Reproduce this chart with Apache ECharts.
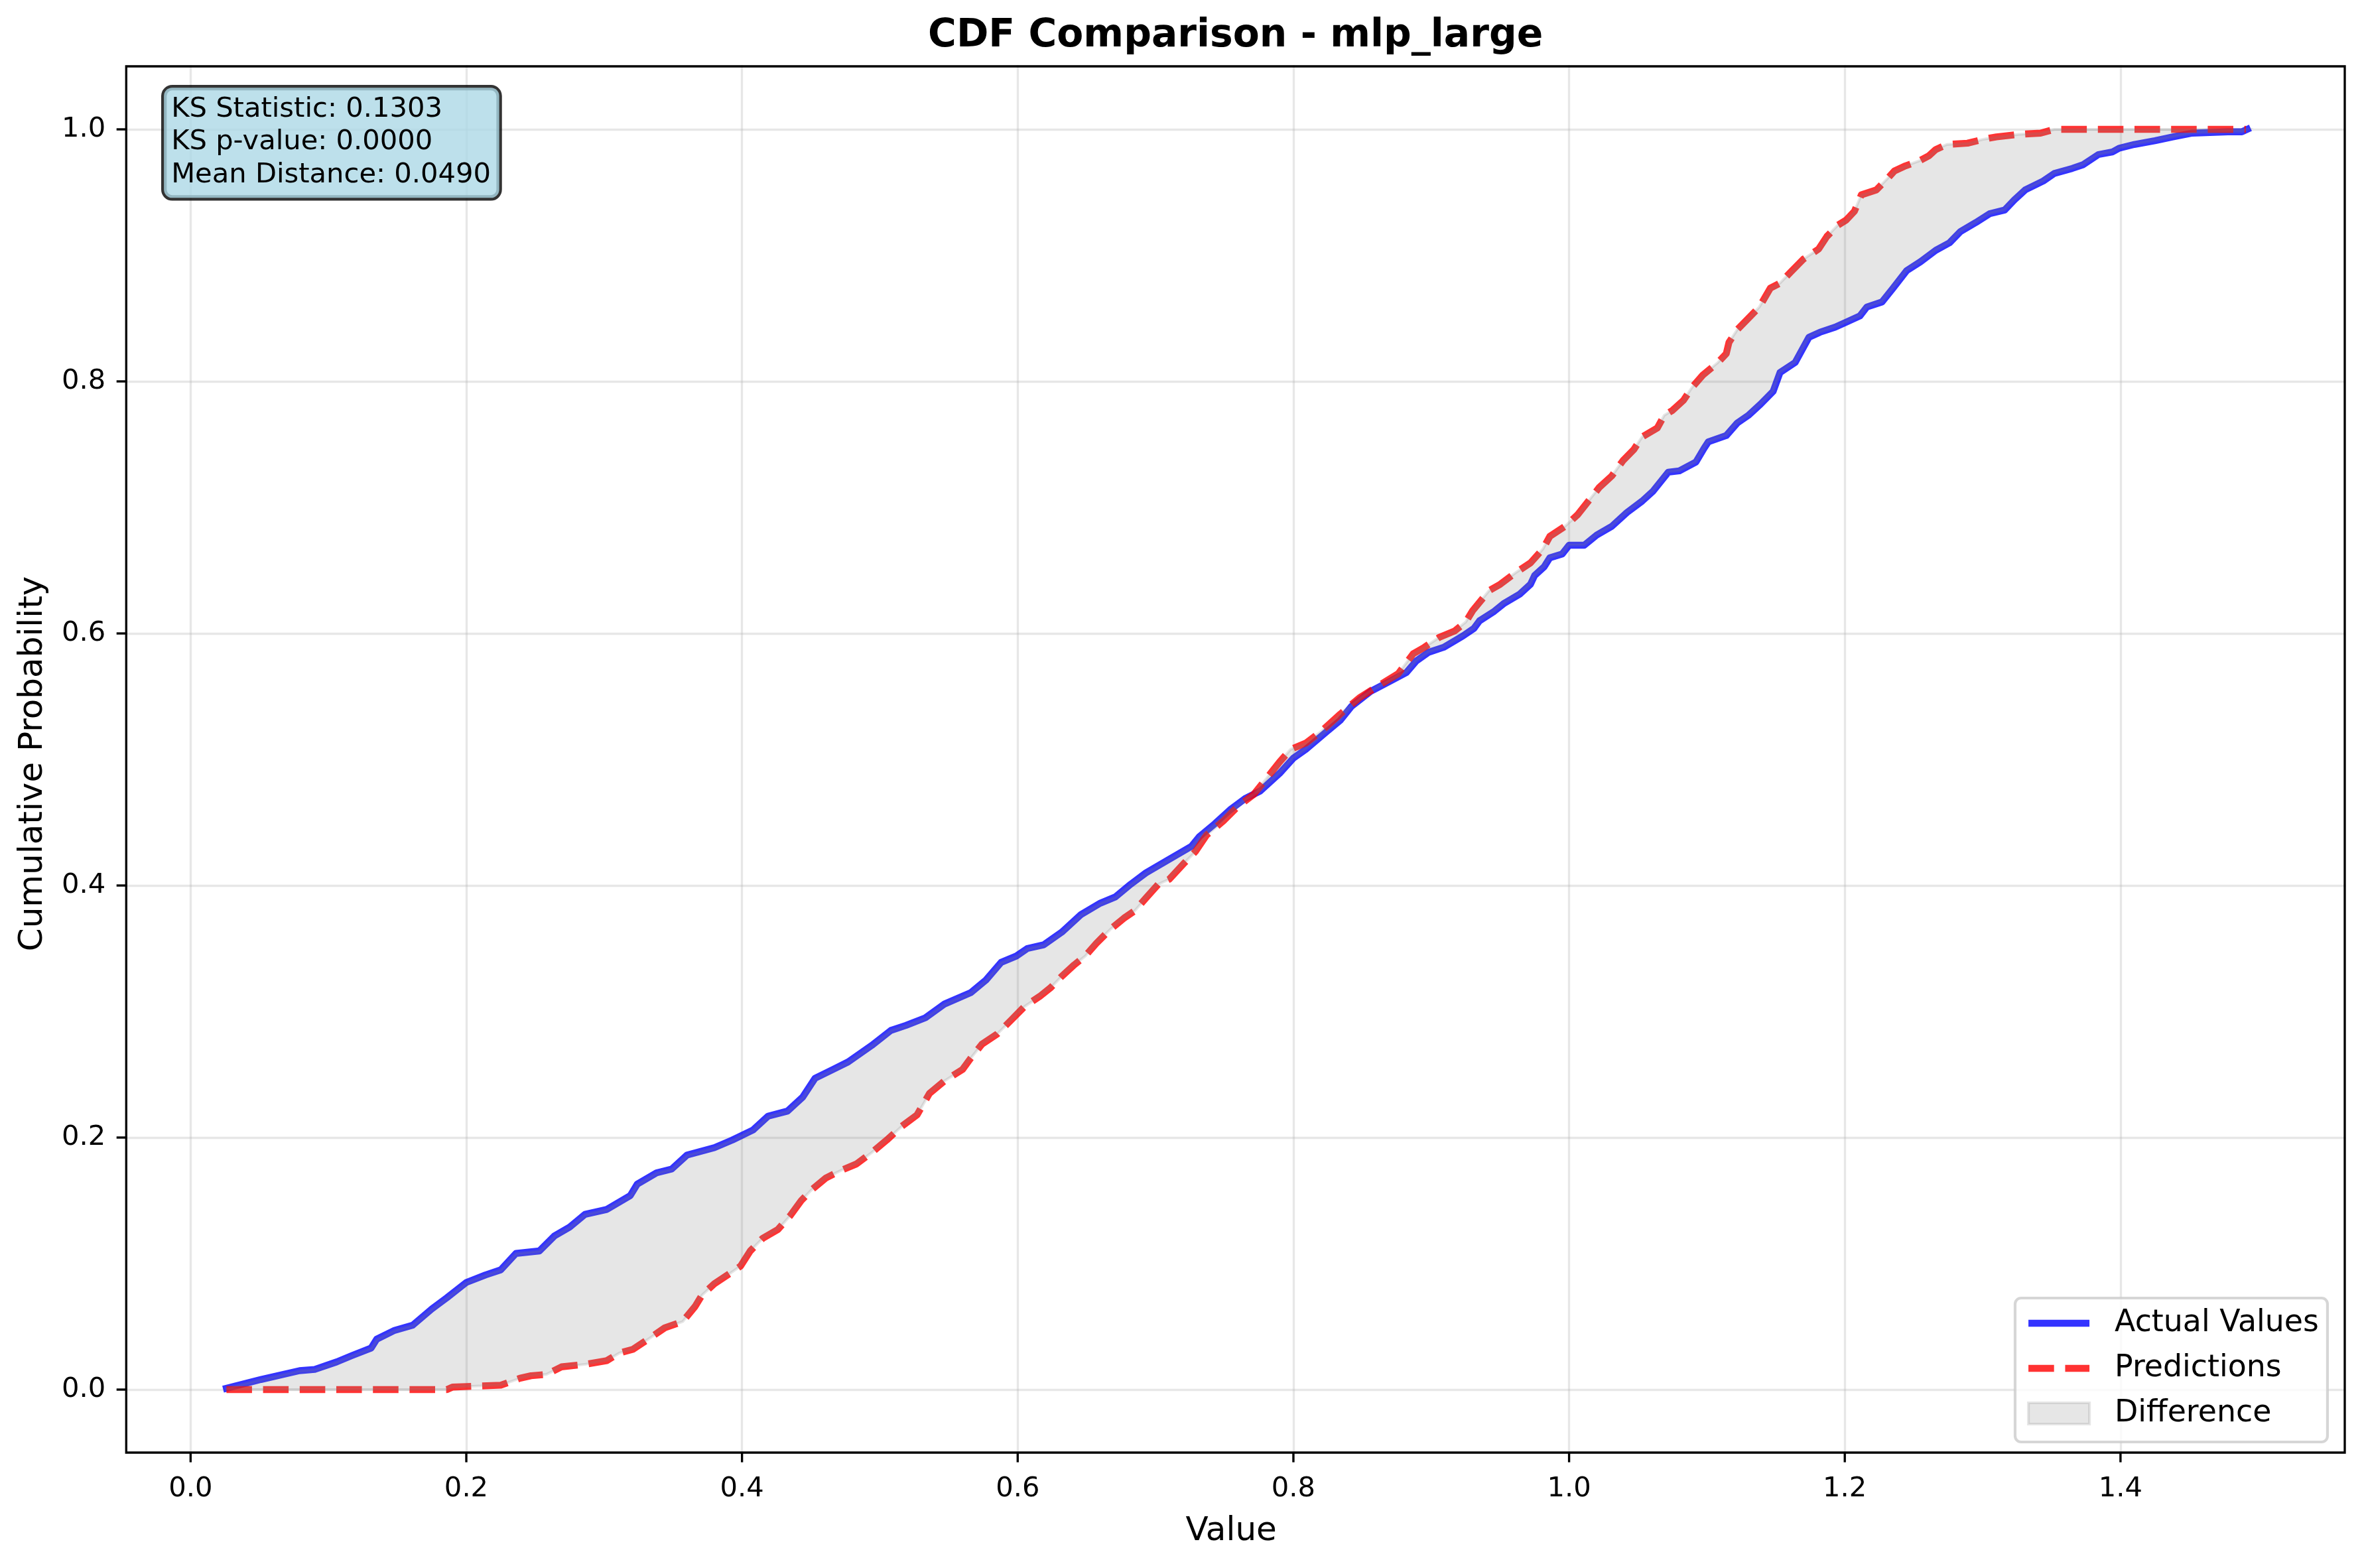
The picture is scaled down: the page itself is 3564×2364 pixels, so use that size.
<!DOCTYPE html>
<html><head><meta charset="utf-8">
<script src="https://cdn.jsdelivr.net/npm/echarts@6/dist/echarts.min.js"></script>
<style>html,body{margin:0;padding:0;background:#fff}#c{width:3564px;height:2364px}</style>
</head><body><div id="c"></div>
<script>
const titleText = 'CDF Comparison - mlp_large';
const xName = 'Value';
const yName = 'Cumulative Probability';
const statsLines = ['KS Statistic: 0.1303', 'KS p-value: 0.0000', 'Mean Distance: 0.0490'];
const seriesNames = ['Actual Values', 'Predictions', 'Difference'];
const xTicks = [0, 0.2, 0.4, 0.6, 0.8, 1.0, 1.2, 1.4];
const yTicks = [0, 0.2, 0.4, 0.6, 0.8, 1.0];
// plotted data limits (the spine box)
const xRange = [-0.0467, 1.5627];
const yRange = [-0.05, 1.05];
// axis extents, slightly wider so the outward tick marks fall inside the drawing area
const xAxisRange = [-0.053725, 1.563518];
const yAxisRange = [-0.057684, 1.050895];

const actualX = [0.026,0.051,0.079,0.090,0.106,0.117,0.131,0.135,0.148,0.161,0.175,0.186,0.200,0.214,0.225,0.236,0.253,0.264,0.275,0.286,0.302,0.319,0.324,0.338,0.349,0.360,0.380,0.393,0.408,0.419,0.433,0.444,0.453,0.466,0.477,0.494,0.508,0.519,0.533,0.547,0.566,0.577,0.588,0.599,0.607,0.619,0.632,0.646,0.660,0.671,0.682,0.693,0.707,0.726,0.732,0.743,0.754,0.765,0.776,0.790,0.800,0.809,0.824,0.834,0.842,0.856,0.870,0.882,0.889,0.898,0.909,0.923,0.931,0.935,0.945,0.953,0.964,0.972,0.975,0.982,0.986,0.995,1.000,1.011,1.020,1.031,1.042,1.053,1.061,1.072,1.080,1.092,1.098,1.101,1.114,1.122,1.130,1.139,1.148,1.153,1.164,1.174,1.182,1.193,1.201,1.211,1.216,1.227,1.235,1.245,1.255,1.266,1.276,1.284,1.295,1.305,1.316,1.323,1.331,1.344,1.352,1.365,1.373,1.384,1.394,1.399,1.410,1.425,1.438,1.452,1.478,1.488,1.492];
const actualY = [0.001,0.008,0.015,0.016,0.022,0.027,0.033,0.040,0.047,0.051,0.064,0.073,0.085,0.091,0.095,0.108,0.110,0.122,0.129,0.139,0.143,0.154,0.163,0.172,0.175,0.186,0.192,0.198,0.206,0.217,0.221,0.232,0.247,0.254,0.260,0.273,0.285,0.289,0.295,0.306,0.315,0.325,0.339,0.344,0.350,0.353,0.363,0.377,0.386,0.391,0.401,0.410,0.419,0.431,0.439,0.449,0.460,0.469,0.475,0.489,0.501,0.508,0.522,0.531,0.542,0.554,0.562,0.569,0.578,0.585,0.589,0.598,0.604,0.610,0.617,0.624,0.631,0.639,0.646,0.653,0.660,0.663,0.670,0.670,0.678,0.685,0.696,0.705,0.713,0.728,0.729,0.736,0.747,0.752,0.757,0.767,0.773,0.782,0.792,0.807,0.815,0.835,0.839,0.843,0.847,0.852,0.859,0.863,0.874,0.888,0.895,0.904,0.910,0.919,0.926,0.933,0.936,0.944,0.952,0.959,0.965,0.969,0.972,0.980,0.982,0.985,0.988,0.991,0.994,0.997,0.998,0.998,1.000];

const predX = [0.026,0.186,0.190,0.225,0.239,0.247,0.258,0.269,0.286,0.302,0.311,0.321,0.332,0.344,0.357,0.366,0.371,0.380,0.391,0.399,0.406,0.415,0.426,0.435,0.443,0.450,0.461,0.472,0.483,0.494,0.505,0.516,0.527,0.536,0.547,0.560,0.566,0.574,0.585,0.596,0.605,0.616,0.624,0.632,0.641,0.649,0.657,0.667,0.677,0.685,0.693,0.702,0.710,0.721,0.729,0.737,0.749,0.760,0.771,0.782,0.790,0.798,0.809,0.820,0.834,0.848,0.867,0.876,0.887,0.895,0.906,0.917,0.925,0.930,0.942,0.950,0.961,0.972,0.981,0.986,0.997,1.006,1.014,1.022,1.031,1.039,1.047,1.053,1.064,1.069,1.075,1.083,1.089,1.097,1.108,1.114,1.116,1.122,1.138,1.146,1.153,1.161,1.170,1.181,1.187,1.195,1.201,1.207,1.212,1.223,1.231,1.236,1.244,1.254,1.261,1.266,1.274,1.289,1.300,1.310,1.326,1.342,1.352,1.491];
const predY = [0.000,0.000,0.002,0.0035,0.009,0.011,0.012,0.018,0.020,0.023,0.029,0.032,0.040,0.049,0.054,0.066,0.075,0.084,0.092,0.098,0.110,0.120,0.127,0.138,0.150,0.158,0.168,0.174,0.179,0.188,0.198,0.209,0.218,0.235,0.245,0.254,0.263,0.274,0.282,0.294,0.304,0.312,0.319,0.328,0.337,0.344,0.354,0.365,0.374,0.380,0.390,0.401,0.405,0.418,0.427,0.440,0.451,0.463,0.472,0.487,0.498,0.508,0.513,0.522,0.536,0.549,0.562,0.568,0.584,0.589,0.597,0.602,0.609,0.618,0.634,0.639,0.648,0.656,0.667,0.677,0.685,0.694,0.705,0.716,0.725,0.737,0.746,0.756,0.763,0.773,0.777,0.785,0.795,0.805,0.815,0.822,0.831,0.841,0.859,0.874,0.878,0.887,0.897,0.905,0.915,0.924,0.928,0.935,0.948,0.952,0.961,0.967,0.971,0.975,0.979,0.984,0.988,0.989,0.992,0.994,0.996,0.997,1.000,1.000];

const FONT = 'DejaVu Sans';
const PT = 300 / 72;
const TICK_LEN = 3.5 * PT;
const TICK_W = 0.8 * PT;
const fmt = v => v.toFixed(1);

const chart = echarts.init(document.getElementById('c'), null, {renderer: 'canvas', width: 3564, height: 2364, devicePixelRatio: 1});

const blueColor = 'rgba(0,0,255,0.8)';
const redColor = 'rgba(255,0,0,0.8)';
const fillColor = 'rgba(128,128,128,0.2)';
const gridLineColor = 'rgba(176,176,176,0.3)';
const corners = 'M0,0L0.01,0L0,0.01Z M0,32L0.01,32L0,31.99Z ';
const solidIcon = 'path://' + corners + 'M0,10.8H92V21.2H0Z';
const dashedIcon = 'path://' + corners + 'M0,10.8H38.5V21.2H0Z M55.2,10.8H91.7V21.2H55.2Z';

const option = {
  animation: false,
  backgroundColor: '#ffffff',
  title: {
    text: titleText, left: 1862.7, top: 26, textAlign: 'center', padding: 0,
    textStyle: {fontFamily: FONT, fontSize: 14 * PT, fontWeight: 'bold', color: '#000'}
  },
  grid: {
    left: 175.7, right: 27.3, top: 98.3, bottom: 159.4,
    show: false, containLabel: false
  },
  xAxis: {
    type: 'value', min: xAxisRange[0], max: xAxisRange[1],
    name: xName, nameLocation: 'middle', nameGap: 79.4,
    nameTextStyle: {fontFamily: FONT, fontSize: 12 * PT, color: '#000'},
    axisLine: {show: false, onZero: false},
    axisTick: {show: false, customValues: xTicks},
    axisLabel: {show: true, customValues: xTicks, formatter: fmt, margin: 19.4, fontFamily: FONT, fontSize: 10 * PT, color: '#000'},
    splitLine: {show: true, lineStyle: {color: gridLineColor, width: 0.8 * PT}}
  },
  yAxis: {
    type: 'value', min: yAxisRange[0], max: yAxisRange[1],
    name: yName, nameLocation: 'middle', nameGap: 100.4, nameRotate: 90,
    nameTextStyle: {fontFamily: FONT, fontSize: 12 * PT, color: '#000'},
    axisLine: {show: false, onZero: false},
    axisTick: {show: false, customValues: yTicks},
    axisLabel: {show: true, customValues: yTicks, formatter: fmt, margin: 16.4, fontFamily: FONT, fontSize: 10 * PT, color: '#000'},
    splitLine: {show: true, lineStyle: {color: gridLineColor, width: 0.8 * PT}}
  },
  legend: {
    orient: 'vertical', left: 3038, top: 1957,
    itemWidth: 92, itemHeight: 32, itemGap: 22,
    symbolKeepAspect: false,
    padding: [15, 13, 20, 18],
    backgroundColor: 'rgba(255,255,255,0.8)', borderColor: 'rgba(204,204,204,0.8)', borderWidth: 1.0 * PT, borderRadius: 9,
    selectedMode: false,
    textStyle: {fontFamily: FONT, fontSize: 11 * PT, color: '#000', lineHeight: 46, padding: [0, 0, 0, 33]},
    data: [
      {name: seriesNames[0], icon: solidIcon, itemStyle: {color: blueColor, borderWidth: 0}},
      {name: seriesNames[1], icon: dashedIcon, itemStyle: {color: redColor, borderWidth: 0}},
      {name: seriesNames[2], icon: 'rect', itemStyle: {color: fillColor, borderColor: fillColor, borderWidth: 1.0 * PT}}
    ]
  },
  series: [
    {
      name: seriesNames[0], type: 'line', symbol: 'none', showSymbol: false, silent: true, z: 2,
      data: actualX.map((x, i) => [x, actualY[i]]),
      itemStyle: {color: blueColor},
      lineStyle: {color: blueColor, width: 2.5 * PT, cap: 'square', join: 'round'}
    },
    {
      name: seriesNames[1], type: 'line', symbol: 'none', showSymbol: false, silent: true, z: 3,
      data: predX.map((x, i) => [x, predY[i]]),
      itemStyle: {color: redColor},
      lineStyle: {color: redColor, width: 2.5 * PT, type: [3.7 * 2.5 * PT, 1.6 * 2.5 * PT], cap: 'butt', join: 'round'}
    },
    {
      name: seriesNames[2], type: 'custom', silent: true, z: 4,
      data: [[actualX[0], actualY[0]]],
      encode: {x: 0, y: 1},
      itemStyle: {color: fillColor},
      renderItem: function (params, api) {
        const pts = [];
        for (let i = 0; i < actualX.length; i++) pts.push(api.coord([actualX[i], actualY[i]]));
        for (let i = predX.length - 1; i >= 0; i--) pts.push(api.coord([predX[i], predY[i]]));
        return {type: 'polygon', shape: {points: pts}, style: {fill: fillColor, stroke: fillColor, lineWidth: 1.0 * PT}};
      }
    },
    {
      name: 'spines', type: 'custom', silent: true, z: 5, clip: false,
      data: [[xRange[0], yRange[0], xRange[1], yRange[1]]],
      encode: {x: [0, 2], y: [1, 3]},
      renderItem: function (params, api) {
        const p0 = api.coord([api.value(0), api.value(1)]);
        const p1 = api.coord([api.value(2), api.value(3)]);
        const children = [{
          type: 'rect',
          shape: {x: p0[0], y: p1[1], width: p1[0] - p0[0], height: p0[1] - p1[1]},
          style: {fill: 'none', stroke: '#000', lineWidth: 0.8 * PT}
        }];
        // outward tick marks from the bottom and left spines
        xTicks.forEach(function (v) {
          const p = api.coord([v, api.value(1)]);
          children.push({type: 'rect', shape: {x: p[0] - TICK_W / 2, y: p[1], width: TICK_W, height: TICK_LEN}, style: {fill: '#000'}});
        });
        yTicks.forEach(function (v) {
          const p = api.coord([api.value(0), v]);
          children.push({type: 'rect', shape: {x: p[0] - TICK_LEN, y: p[1] - TICK_W / 2, width: TICK_LEN, height: TICK_W}, style: {fill: '#000'}});
        });
        return {type: 'group', children: children};
      }
    }
  ],
  graphic: [
    {
      type: 'text', left: 243, top: 128, z: 100,
      style: {
        text: statsLines.join('\n'),
        font: (10 * PT) + 'px "' + FONT + '"',
        fill: '#000', lineHeight: 49.5,
        backgroundColor: 'rgba(173,216,230,0.8)',
        borderColor: 'rgba(0,0,0,0.8)', borderWidth: 1.0 * PT, borderRadius: 12.5,
        padding: [8, 12.5, 9.7, 11]
      }
    }
  ]
};
chart.setOption(option);
</script>
</body></html>
